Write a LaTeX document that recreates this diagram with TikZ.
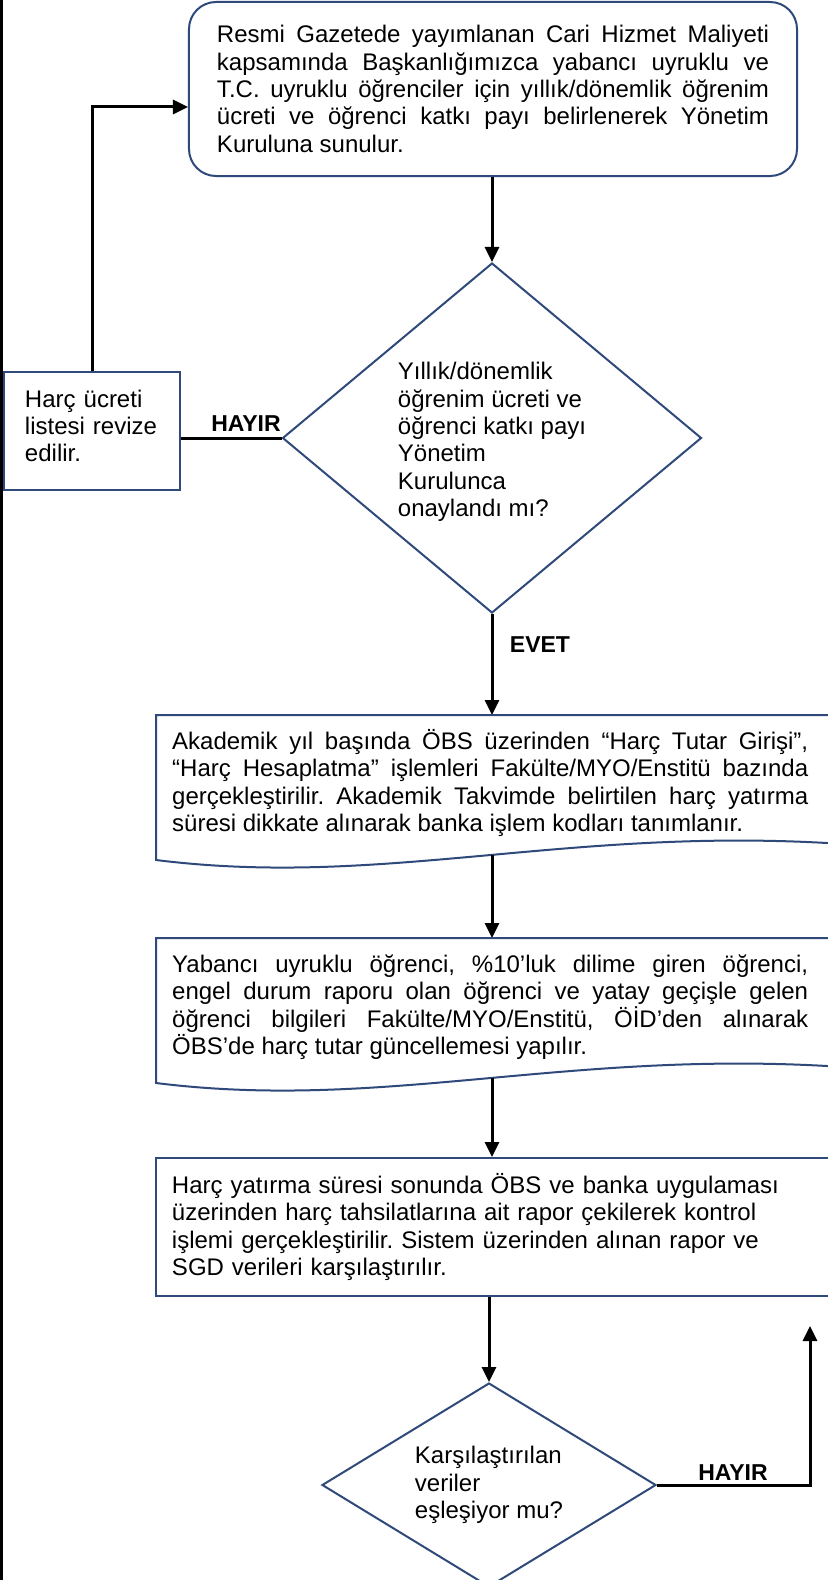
\documentclass[tikz,border=0pt]{standalone}
\usepackage{fontspec}
\setmainfont{Liberation Sans}
\usetikzlibrary{arrows.meta,shapes.geometric,calc}
\definecolor{navy}{HTML}{2F4A7A}
\frenchspacing
\begin{document}
\begin{tikzpicture}[x=1bp,y=-1bp,
  shp/.style={draw=navy,line width=2bp},
  conn/.style={line width=3bp,black},
  arr/.style={conn,-{Triangle[width=14bp,length=15bp]}},
  txt/.style={font=\fontsize{24bp}{27.4bp}\selectfont,inner sep=0pt},
  lbl/.style={font=\fontsize{23bp}{27bp}\selectfont\bfseries,inner sep=0pt},
]
\useasboundingbox (0,0) rectangle (827,1580);
\fill[white] (0,0) rectangle (827,1580);
\draw[line width=3bp] (1.5,0) -- (1.5,1580);

% top rounded box
\node[shp,txt,rounded corners=27bp,minimum width=608bp,minimum height=174bp,text width=552bp,align=justify] (top) at (493,89)
{Resmi Gazetede yayımlanan Cari Hizmet Maliyeti\linebreak kapsamında Başkanlığımızca yabancı uyruklu ve\linebreak T.C. uyruklu öğrenciler için yıllık/dönemlik öğrenim\linebreak ücreti ve öğrenci katkı payı belirlenerek Yönetim\linebreak Kuruluna sunulur.};

% decision 1
\node[shp,diamond,aspect=1.19,minimum width=419bp,minimum height=350bp,inner sep=0pt] (d1) at (492,438) {};
\node[txt,align=left] (d1t) at (492,442)
{Yıllık/dönemlik\\öğrenim ücreti ve\\öğrenci katkı payı\\Yönetim\\Kurulunca\\onaylandı mı?};

% left box
\node[shp,minimum width=176bp,minimum height=118bp,inner sep=0pt] (lb) at (92,431) {};
\node[txt,text width=134bp,align=left] (lbt) at (92,426)
{Harç ücreti\\listesi revize\\edilir.};

\coordinate (loopy) at (0,107);
\draw[conn] (lb.east |- d1.west) -- (d1.west);
\node[lbl] (h1) at (246,424) {HAYIR};
\draw[arr] (lb.north) |- (top.west |- loopy);
\draw[arr] (top.south -| d1.north) -- (d1.north);

% document 1
\coordinate (doc1n) at (492,715);
\coordinate (doc1s) at (492,855);
\draw[arr] (d1.south) -- (doc1n);
\node[lbl] (ev) at (540,645) {EVET};
\draw[shp] (840,843) -- (827,843) .. controls (560,828) and (380,888) .. (156,860) -- (156,715) -- (840,715);
\node[txt,text width=636bp,align=justify,anchor=west] (t1) at (172,783)
{Akademik yıl başında ÖBS üzerinden “Harç Tutar Girişi”,\linebreak “Harç Hesaplatma” işlemleri Fakülte/MYO/Enstitü bazında\linebreak gerçekleştirilir. Akademik Takvimde belirtilen harç yatırma\linebreak süresi dikkate alınarak banka işlem kodları tanımlanır.};

% document 2
\coordinate (doc2n) at (492,938);
\coordinate (doc2s) at (492,1078);
\draw[arr] (doc1s) -- (doc2n);
\draw[shp] (840,1066) -- (827,1066) .. controls (560,1051) and (380,1111) .. (156,1083) -- (156,938) -- (840,938);
\node[txt,text width=636bp,align=justify,anchor=west] (t2) at (172,1007)
{Yabancı uyruklu öğrenci, \%10’luk dilime giren öğrenci,\linebreak engel durum raporu olan öğrenci ve yatay geçişle gelen\linebreak öğrenci bilgileri Fakülte/MYO/Enstitü, ÖİD’den alınarak\linebreak ÖBS’de harç tutar güncellemesi yapılır.};

% box 3
\node[shp,txt,minimum width=684bp,minimum height=138bp,text width=652bp,align=left] (b3) at (498,1227)
{Harç yatırma süresi sonunda ÖBS ve banka uygulaması\\üzerinden harç tahsilatlarına ait rapor çekilerek kontrol\\işlemi gerçekleştirilir. Sistem üzerinden alınan rapor ve\\SGD verileri karşılaştırılır.};
\draw[arr] (doc2s) -- (doc2s |- b3.north);

% decision 2
\node[shp,txt,diamond,aspect=1.64,minimum width=334bp,minimum height=204bp,align=left] (d2) at (489,1485)
{Karşılaştırılan\\veriler\\eşleşiyor mu?};
\draw[arr] (b3.south -| d2.north) -- (d2.north);
\coordinate (rt) at (810,1326);
\draw[arr] (d2.east) -| (rt);
\node[lbl] (h2) at (733,1473) {HAYIR};
\end{tikzpicture}
\end{document}
